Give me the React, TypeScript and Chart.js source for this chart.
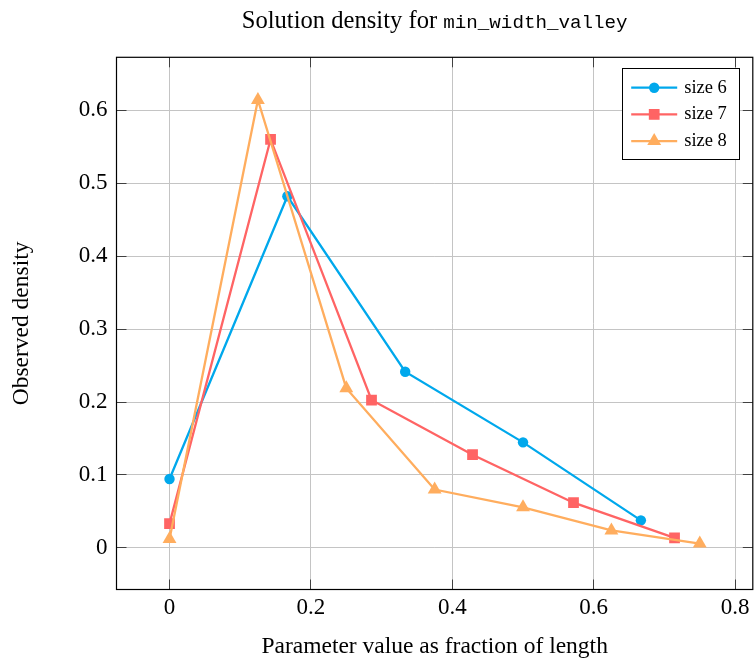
import React, { useEffect, useRef } from "react";
import { Chart, registerables } from "chart.js";

Chart.register(...registerables);

// ---- data ----
const seriesLabels = ["size 6", "size 7", "size 8"];
const size6X = [0, 0.1667, 0.3333, 0.5, 0.6667];
const size6Y = [0.0945, 0.482, 0.2415, 0.1447, 0.0378];
const size7X = [0, 0.1429, 0.2857, 0.4286, 0.5714, 0.7143];
const size7Y = [0.0333, 0.56, 0.2027, 0.1278, 0.062, 0.0137];
const size8X = [0, 0.125, 0.25, 0.375, 0.5, 0.625, 0.75];
const size8Y = [0.0123, 0.614, 0.219, 0.08, 0.0556, 0.024, 0.0059];
const xTickValues = [0, 0.2, 0.4, 0.6, 0.8];
const yTickValues = [0, 0.1, 0.2, 0.3, 0.4, 0.5, 0.6];
const titleMain = "Solution density for ";
const titleCode = "min_width_valley";
const xAxisLabel = "Parameter value as fraction of length";
const yAxisLabel = "Observed density";

// ---- styles ----
const seriesColors = ["#00A8EC", "#FF6464", "#FFAD5E"];
const seriesMarkers = ["circle", "rect", "triangle"];
const markerRadius = [5.2, 7.6, 8];
const SERIF = '"Liberation Serif", "Times New Roman", serif';
const MONO = '"Liberation Mono", "DejaVu Sans Mono", monospace';

function alignPx(p: number) {
  return Math.round(p - 0.5) + 0.5;
}

function drawMarker(ctx: CanvasRenderingContext2D, style: string, x: number, y: number, r: number) {
  ctx.beginPath();
  if (style === "circle") {
    ctx.arc(x, y, r, 0, Math.PI * 2);
  } else if (style === "rect") {
    const s = r * Math.SQRT1_2;
    ctx.rect(x - s, y - s, 2 * s, 2 * s);
  } else {
    let rad = 0;
    ctx.moveTo(x + Math.sin(rad) * r, y - Math.cos(rad) * r);
    rad += (2 * Math.PI) / 3;
    ctx.lineTo(x + Math.sin(rad) * r, y - Math.cos(rad) * r);
    rad += (2 * Math.PI) / 3;
    ctx.lineTo(x + Math.sin(rad) * r, y - Math.cos(rad) * r);
    ctx.closePath();
  }
  ctx.fill();
}

const decorPlugin = {
  id: "pgfDecor",
  afterDatasetsDraw(chart: any) {
    const { ctx, chartArea: a, scales } = chart;
    const xs = scales.x;
    const ys = scales.y;
    ctx.save();
    // inward tick marks on all four sides
    ctx.strokeStyle = "#404040";
    ctx.lineWidth = 1;
    ctx.beginPath();
    const tl = 10;
    xTickValues.forEach((v) => {
      const px = alignPx(xs.getPixelForValue(v));
      ctx.moveTo(px, a.bottom);
      ctx.lineTo(px, a.bottom - tl);
      ctx.moveTo(px, a.top);
      ctx.lineTo(px, a.top + tl);
    });
    yTickValues.forEach((v) => {
      const py = alignPx(ys.getPixelForValue(v));
      ctx.moveTo(a.left, py);
      ctx.lineTo(a.left + tl, py);
      ctx.moveTo(a.right, py);
      ctx.lineTo(a.right - tl, py);
    });
    ctx.stroke();
    // axis box
    ctx.strokeStyle = "#000";
    ctx.lineWidth = 1.2;
    ctx.strokeRect(a.left, a.top, a.right - a.left, a.bottom - a.top);

    // legend
    const lw = 117;
    const lh = 91;
    const lx = a.right - 13.3 - lw;
    const ly = a.top + 11;
    ctx.fillStyle = "#fff";
    ctx.fillRect(lx, ly, lw, lh);
    ctx.strokeStyle = "#000";
    ctx.lineWidth = 1;
    ctx.strokeRect(alignPx(lx), alignPx(ly), lw, lh);
    chart.data.datasets.forEach((ds: any, i: number) => {
      const cy = ly + 19.4 + i * 26.7;
      const x0 = lx + 8.7;
      const x1 = lx + 54.7;
      ctx.strokeStyle = ds.borderColor;
      ctx.lineWidth = ds.borderWidth;
      ctx.beginPath();
      ctx.moveTo(x0, cy);
      ctx.lineTo(x1, cy);
      ctx.stroke();
      ctx.fillStyle = ds.backgroundColor;
      drawMarker(ctx, ds.pointStyle, (x0 + x1) / 2, cy, ds.pointRadius);
      ctx.fillStyle = "#000";
      ctx.font = `18.5px ${SERIF}`;
      ctx.textAlign = "left";
      ctx.textBaseline = "alphabetic";
      ctx.fillText(ds.label, lx + 61.7, cy + 5);
    });
    ctx.restore();
  },
  afterDraw(chart: any) {
    const { ctx, chartArea: a } = chart;
    ctx.save();
    const serifFont = `24.6px ${SERIF}`;
    const monoFont = `19.2px ${MONO}`;
    ctx.font = serifFont;
    const w1 = ctx.measureText(titleMain).width;
    ctx.font = monoFont;
    const w2 = ctx.measureText(titleCode).width;
    const cx = (a.left + a.right) / 2;
    const start = cx - (w1 + w2) / 2;
    const baseline = 28.3;
    ctx.fillStyle = "#000";
    ctx.textAlign = "left";
    ctx.textBaseline = "alphabetic";
    ctx.font = serifFont;
    ctx.fillText(titleMain, start, baseline);
    ctx.font = monoFont;
    ctx.fillText(titleCode, start + w1, baseline);
    ctx.restore();
  },
};

export default function App() {
  const canvasRef = useRef<HTMLCanvasElement | null>(null);

  useEffect(() => {
    const canvas = canvasRef.current;
    if (!canvas) return;
    const xsList = [size6X, size7X, size8X];
    const ysList = [size6Y, size7Y, size8Y];
    const datasets = seriesLabels.map((label, i) => ({
      label,
      data: xsList[i].map((x, j) => ({ x, y: ysList[i][j] })),
      borderColor: seriesColors[i],
      backgroundColor: seriesColors[i],
      pointBackgroundColor: seriesColors[i],
      pointBorderColor: seriesColors[i],
      pointBorderWidth: 0,
      pointStyle: seriesMarkers[i],
      pointRadius: markerRadius[i],
      pointHoverRadius: markerRadius[i],
      borderWidth: 2.3,
      tension: 0,
      fill: false,
      order: 3 - i,
    }));

    const chart = new Chart(canvas, {
      type: "line",
      data: { datasets },
      plugins: [decorPlugin],
      options: {
        responsive: false,
        animation: false,
        events: [],
        layout: { autoPadding: false, padding: { top: 57.3, right: 3.2, left: 0, bottom: 0 } },
        plugins: {
          legend: { display: false },
          tooltip: { enabled: false },
          title: { display: false },
        },
        scales: {
          x: {
            type: "linear",
            min: -0.075,
            max: 0.825,
            afterBuildTicks: (s: any) => {
              s.ticks = xTickValues.map((v) => ({ value: v }));
            },
            afterFit: (s: any) => {
              s.height = 73.5;
              s.paddingLeft = 0;
              s.paddingRight = 0;
            },
            grid: { color: "#c4c4c4", lineWidth: 1, drawTicks: false },
            border: { display: false },
            ticks: {
              padding: 5,
              color: "#000",
              autoSkip: false,
              maxRotation: 0,
              font: { family: SERIF, size: 23 },
              callback: (v: any) => String(Number(v)),
            },
            title: {
              display: true,
              text: xAxisLabel,
              color: "#000",
              font: { family: SERIF, size: 23.5 },
              padding: { top: 0, bottom: 2 },
            },
          },
          y: {
            type: "linear",
            min: -0.057,
            max: 0.6725,
            afterBuildTicks: (s: any) => {
              s.ticks = yTickValues.map((v) => ({ value: v }));
            },
            afterFit: (s: any) => {
              s.width = 116.5;
              s.paddingTop = 0;
              s.paddingBottom = 0;
            },
            grid: { color: "#c4c4c4", lineWidth: 1, drawTicks: false },
            border: { display: false },
            ticks: {
              padding: 9,
              color: "#000",
              autoSkip: false,
              font: { family: SERIF, size: 23 },
              callback: (v: any) => String(Number(v)),
            },
            title: {
              display: true,
              text: yAxisLabel,
              color: "#000",
              font: { family: SERIF, size: 23.5 },
              padding: { top: 7.5, bottom: 0 },
            },
          },
        },
      },
    } as any);
    return () => chart.destroy();
  }, []);

  return (
    <div style={{ position: "fixed", left: 0, top: 0, width: 756, height: 663, background: "#fff" }}>
      <canvas ref={canvasRef} width={756} height={663} style={{ display: "block" }} />
    </div>
  );
}
